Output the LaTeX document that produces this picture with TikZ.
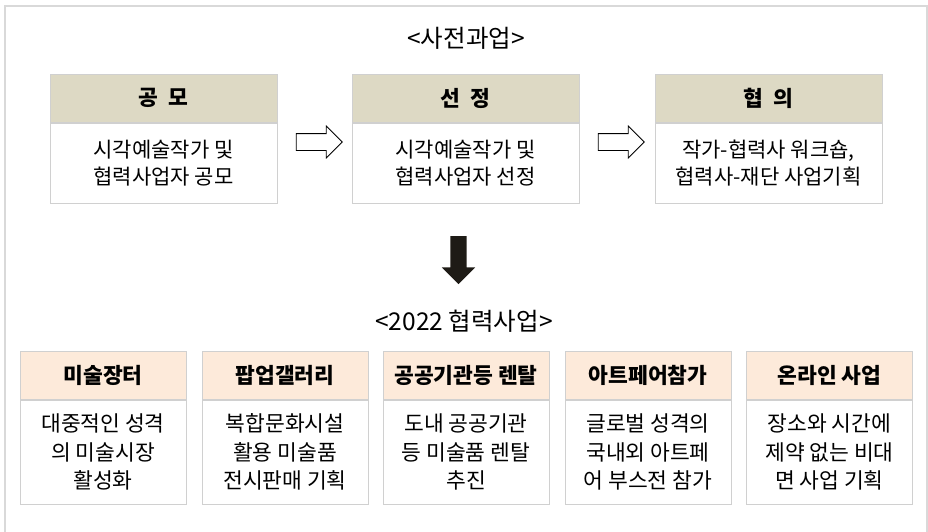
\documentclass[tikz,border=0pt]{standalone}
\usepackage{fontspec}
\setmainfont{Noto Sans CJK KR}
\usetikzlibrary{positioning,shapes.arrows}

\definecolor{framegray}{HTML}{D9D9D9}
\definecolor{boxgray}{HTML}{D0D0D0}
\definecolor{headtan}{HTML}{DDD9C4}
\definecolor{headpeach}{HTML}{FDEADA}
\definecolor{arrowdark}{HTML}{1E1B16}

\begin{document}
\begin{tikzpicture}[x=1pt,y=-1pt,
    title/.style={font=\fontsize{24.5}{28}\selectfont},
    stephead/.style={draw=boxgray,line width=1pt,fill=headtan,minimum width=227pt,minimum height=48pt,
      inner sep=0pt,font=\bfseries\fontsize{21.5}{24}\selectfont},
    stepbody/.style={draw=boxgray,line width=1pt,fill=white,minimum width=227pt,minimum height=80pt,
      inner sep=0pt,align=center,font=\fontsize{21}{27.5}\selectfont},
    bizhead/.style={draw=boxgray,line width=1pt,fill=headpeach,minimum width=166pt,minimum height=48pt,
      inner sep=0pt,font=\bfseries\fontsize{21.5}{24}\selectfont},
    bizbody/.style={draw=boxgray,line width=1pt,fill=white,minimum width=166pt,minimum height=104pt,
      inner sep=0pt,align=center,font=\fontsize{21.5}{28.5}\selectfont},
    hollow/.style={single arrow,draw=black,line width=0.8pt,fill=white,minimum height=46pt,
      inner xsep=0pt,inner ysep=8pt,single arrow head extend=7.5pt},
    bigdown/.style={single arrow,fill=arrowdark,minimum height=48pt,
      inner xsep=0pt,inner ysep=8pt,single arrow head extend=8.5pt,rotate=-90}]
  \clip (0,0) rectangle (928,531);
  \draw[framegray,line width=1.5pt] (5,6) rectangle (927,560);

  % 사전과업
  \node[title] (pre) at (466,38) {<사전과업>};
  \node[stephead] (h1) at (163.5,98) {공\hspace{0.45em}모};
  \node[stephead] (h2) at (465.5,98) {선\hspace{0.45em}정};
  \node[stephead] (h3) at (768.5,98) {협\hspace{0.45em}의};
  \node[stepbody,below=0pt of h1] (b1) {시각예술작가 및\\협력사업자 공모};
  \node[stepbody,below=0pt of h2] (b2) {시각예술작가 및\\협력사업자 선정};
  \node[stepbody,below=0pt of h3] (b3) {작가-협력사 워크숍,\\협력사-재단 사업기획};
  \node[hollow] (a1) at (315,142) {};
  \node[hollow] (a2) at (617,142) {};

  \node[bigdown] (down) at (458.5,256) {};

  % 2022 협력사업
  \node[title] (coop) at (464,321) {<2022 협력사업>};
  \node[bizhead] (p1) at (103,375) {미술장터};
  \node[bizhead] (p2) at (285,375) {팝업갤러리};
  \node[bizhead] (p3) at (466,375) {공공기관등 렌탈};
  \node[bizhead] (p4) at (648,375) {아트페어참가};
  \node[bizhead] (p5) at (829.5,375) {온라인 사업};
  \node[bizbody,below=0pt of p1] (q1) {대중적인 성격\\의 미술시장\\활성화};
  \node[bizbody,below=0pt of p2] (q2) {복합문화시설\\활용 미술품\\전시판매 기획};
  \node[bizbody,below=0pt of p3] (q3) {도내 공공기관\\등 미술품 렌탈\\추진};
  \node[bizbody,below=0pt of p4] (q4) {글로벌 성격의\\국내외 아트페\\어 부스전 참가};
  \node[bizbody,below=0pt of p5] (q5) {장소와 시간에\\제약 없는 비대\\면 사업 기획};
\end{tikzpicture}
\end{document}
